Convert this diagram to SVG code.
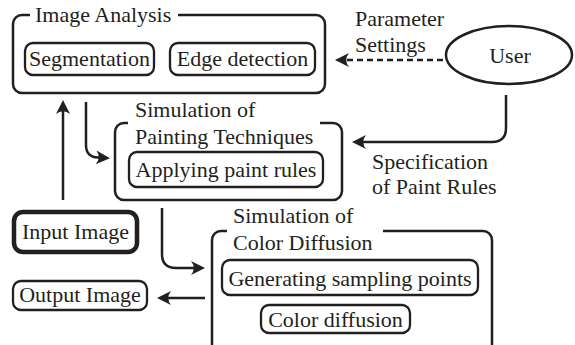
<svg xmlns="http://www.w3.org/2000/svg" width="575" height="345" viewBox="0 0 575 345">
<defs>
<style>
text{font-family:"Liberation Serif","Times New Roman",serif;font-size:22px;fill:#231f20}
.c{text-anchor:middle}
.box{fill:none;stroke:#231f20;stroke-width:2.5}
.in{fill:#fff;stroke:#231f20;stroke-width:2.3}
.ln{fill:none;stroke:#231f20;stroke-width:2.5}
</style>
<marker id="ah" viewBox="-15 -8 16 16" refX="-4" refY="0" markerWidth="16" markerHeight="16" markerUnits="userSpaceOnUse" orient="auto">
<path d="M0,0 L-14,-7 Q-8.5,0 -14,7 Z" fill="#231f20"/>
</marker>
</defs>
<rect width="575" height="345" fill="#fff"/>

<g id="image-analysis">
<path class="box" d="M30,15 H22 A9 9 0 0 0 13 24 V84 A9 9 0 0 0 22 93 H316 A9 9 0 0 0 325 84 V24 A9 9 0 0 0 316 15 H178"/>
<text x="35" y="22">Image Analysis</text>
<rect class="in" x="25" y="43" width="129" height="32" rx="8"/>
<text class="c" x="89.5" y="66">Segmentation</text>
<rect class="in" x="170" y="43" width="145" height="32" rx="8"/>
<text class="c" x="242.5" y="66">Edge detection</text>
</g>

<g id="user">
<ellipse cx="509" cy="55" rx="63" ry="29" fill="#fff" stroke="#231f20" stroke-width="2.5"/>
<text class="c" x="510" y="63">User</text>
</g>

<g id="painting">
<path class="box" d="M128,123 H124 A9 9 0 0 0 115 132 V191 A9 9 0 0 0 124 200 H333 A9 9 0 0 0 342 191 V132 A9 9 0 0 0 333 123 H320"/>
<text x="135" y="117">Simulation of</text>
<text x="135" y="144">Painting Techniques</text>
<rect class="in" x="129" y="152" width="194" height="35" rx="8"/>
<text class="c" x="226" y="177">Applying paint rules</text>
</g>

<g id="input-image">
<rect x="14" y="212" width="123" height="40" rx="9" fill="#fff" stroke="#231f20" stroke-width="4.5"/>
<text class="c" x="75.5" y="239">Input Image</text>
</g>

<g id="output-image">
<rect class="in" x="13" y="281" width="134" height="29" rx="8"/>
<text class="c" x="80" y="302">Output Image</text>
</g>

<g id="color-diffusion">
<path class="box" d="M227,231 H221 A9 9 0 0 0 212 240 V352 M492,352 V240 A9 9 0 0 0 483 231 H383"/>
<text x="233" y="223">Simulation of</text>
<text x="233" y="250">Color Diffusion</text>
<rect class="in" x="222" y="260" width="256" height="35" rx="8"/>
<text class="c" x="350" y="286">Generating sampling points</text>
<rect class="in" x="261" y="305" width="149" height="28" rx="8"/>
<text class="c" x="335.5" y="327">Color diffusion</text>
</g>

<g id="connectors">
<path class="ln" d="M443,60 H339" stroke-dasharray="6,4" marker-end="url(#ah)"/>
<path class="ln" d="M506,95 V128 Q506,142 492,142 H356" marker-end="url(#ah)"/>
<path class="ln" d="M86,102 V145 Q86,157 98,157.5 L106,158" marker-end="url(#ah)"/>
<path class="ln" d="M63,200 V104" marker-end="url(#ah)"/>
<path class="ln" d="M162,208 V254 Q162,268 176,268 H201" marker-end="url(#ah)"/>
<path class="ln" d="M205,298 H161" marker-end="url(#ah)"/>
</g>

<g id="labels">
<text x="355" y="26">Parameter</text>
<text x="355" y="52">Settings</text>
<text x="372" y="169">Specification</text>
<text x="372" y="194">of Paint Rules</text>
</g>
</svg>
